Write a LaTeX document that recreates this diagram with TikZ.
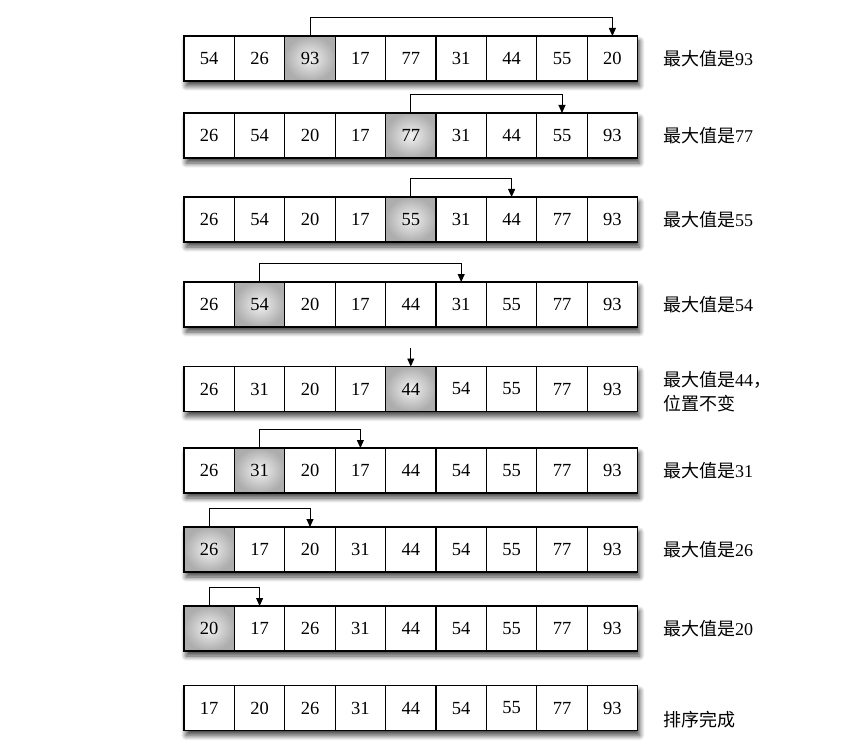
\documentclass[tikz,border=0pt]{standalone}
\usepackage{fontspec}
\setmainfont{Liberation Serif}
\newfontfamily\cjk{Noto Sans CJK SC}
\usetikzlibrary{arrows.meta, positioning, shadows.blur, backgrounds}

\begin{document}
\begin{tikzpicture}[
    x=1pt, y=-1pt,
    >={Triangle[length=8pt,width=7pt]},
    % Styles
    cell/.style={draw, line width=1.1pt, minimum width=50.4pt, minimum height=45pt, inner sep=0pt, outer sep=0pt, fill=white, font=\fontsize{18.5}{20}\selectfont},
    hicell/.style={cell, inner color=black!5, outer color=black!32},
    link/.style={->, line width=0.9pt},
    rowshadow/.style={fill=white, blur shadow={shadow xshift=2pt, shadow yshift=-5pt, shadow blur radius=5pt, shadow blur steps=10, shadow opacity=75}},
    note/.style={anchor=west, font=\fontsize{18}{24}\selectfont, align=left, inner sep=0pt},
]
\useasboundingbox (0,0) rectangle (863,749);

% ── Rows: values / highlighted cell / swap target / centre ──
\foreach \rw/\vals/\hl/\tgt/\yc in {
    1/{54,26,93,17,77,31,44,55,20}/3/9/58.5,
    2/{26,54,20,17,77,31,44,55,93}/5/8/135.5,
    3/{26,54,20,17,55,31,44,77,93}/5/7/219.5,
    4/{26,54,20,17,44,31,55,77,93}/2/6/304.5,
    5/{26,31,20,17,44,54,55,77,93}/5/5/389,
    6/{26,31,20,17,44,54,55,77,93}/2/4/470.5,
    7/{26,17,20,31,44,54,55,77,93}/1/3/549.5,
    8/{20,17,26,31,44,54,55,77,93}/1/2/628.5,
    9/{17,20,26,31,44,54,55,77,93}/0/0/708} {
  \foreach \v [count=\i] in \vals {
    \ifnum\i=\hl \def\sty{hicell}\else\def\sty{cell}\fi
    \node[\sty] (r\rw c\i) at ({209.2+50.4*(\i-1)}, \yc) {\v};
  }
  \begin{scope}[on background layer]
    \path[rowshadow] (r\rw c1.north west) rectangle (r\rw c9.south east);
  \end{scope}
  % swap arrow
  \ifnum\hl>0
    \ifnum\hl=\tgt
      \coordinate (top\rw) at ([yshift=19pt]r\rw c\hl.north);
      \draw[link] (top\rw) -- (r\rw c\hl.north);
    \else
      \draw[link] (r\rw c\hl.north) -- ++(0,-19) -| (r\rw c\tgt.north);
    \fi
  \fi
}

% ── Labels ──
\node[note, right=25.4pt of r1c9] (lab1) {{\cjk 最大值是}93};
\node[note, right=25.4pt of r2c9] (lab2) {{\cjk 最大值是}77};
\node[note, right=25.4pt of r3c9] (lab3) {{\cjk 最大值是}55};
\node[note, right=25.4pt of r4c9] (lab4) {{\cjk 最大值是}54};
\node[note, right=25.4pt of r5c9, yshift=-3pt] (lab5) {{\cjk 最大值是}44{\cjk ，}\\{\cjk 位置不变}};
\node[note, right=25.4pt of r6c9] (lab6) {{\cjk 最大值是}31};
\node[note, right=25.4pt of r7c9] (lab7) {{\cjk 最大值是}26};
\node[note, right=25.4pt of r8c9] (lab8) {{\cjk 最大值是}20};
\node[note, right=25.4pt of r9c9, yshift=-12pt] (lab9) {{\cjk 排序完成}};

\end{tikzpicture}
\end{document}
